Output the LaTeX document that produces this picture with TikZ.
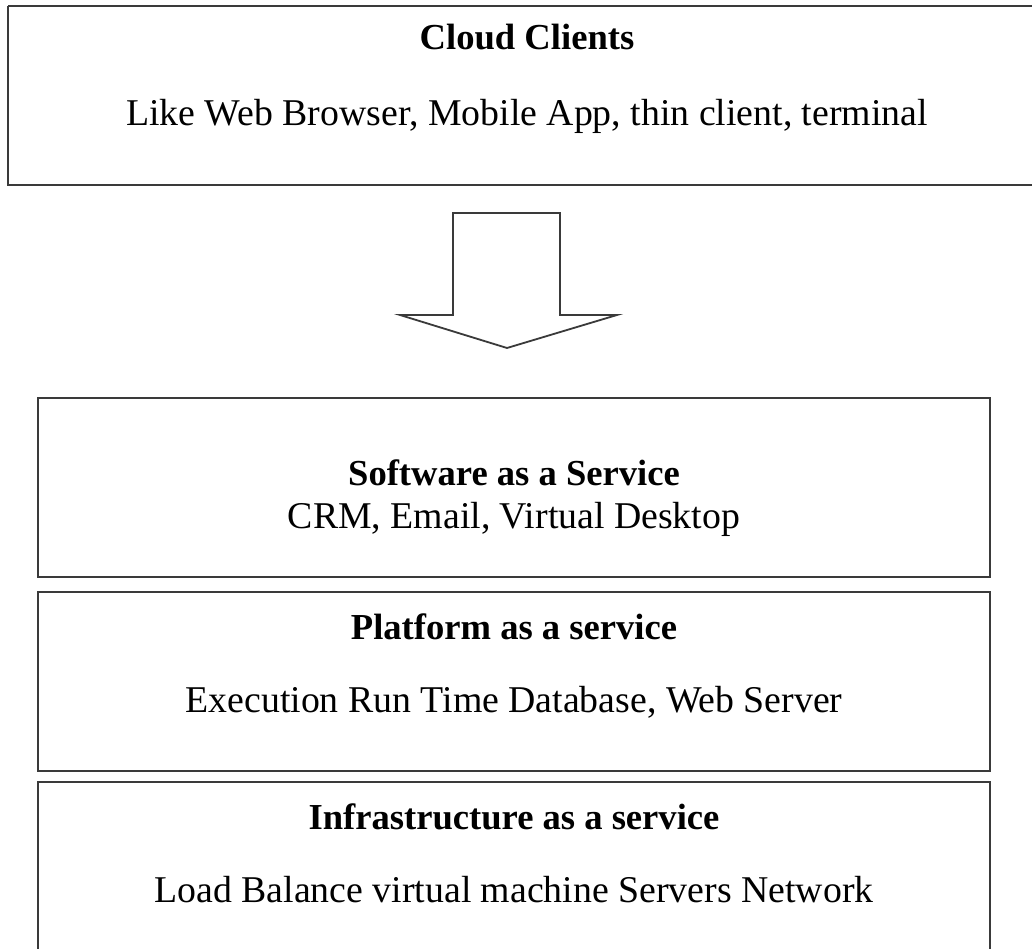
\documentclass[tikz,border=0pt]{standalone}
\usepackage{fontspec}
\setmainfont{Liberation Serif}
\definecolor{edge}{HTML}{3A3A3A}
\tikzset{
  x=1pt, y=-1pt,
  layerbox/.style={draw=edge, line width=2.6pt},
  blockarrow/.style={draw=edge, line width=1.8pt, fill=white, line join=miter},
  head/.style={anchor=base, font=\fontsize{36.6}{40}\selectfont\bfseries, inner sep=0pt},
  body/.style={anchor=base, font=\fontsize{37.8}{41}\selectfont, inner sep=0pt},
}
\begin{document}
\begin{tikzpicture}
  \useasboundingbox (0,0) rectangle (1032,949);
  \fill[white] (0,0) rectangle (1032,949);

  % client tier (runs off the right edge)
  \draw[layerbox] (8,6) -- (1045,6) (8,6) -- (8,185) -- (1045,185);
  \node[head] (cc) at (527,50) {Cloud Clients};
  \node[body] (ccb) at (527,126) {Like Web Browser, Mobile App, thin client, terminal};

  % downward block arrow
  \draw[blockarrow] (453,213) -- (560,213) -- (560,315) -- (617,315)
    -- (507,348) -- (400,315) -- (453,315) -- cycle;

  % service layers
  \draw[layerbox] (38,398) rectangle (990,577);
  \node[head] (saas) at (514,485) {Software as a Service};
  \node[body] (saasb) at (514,528) {CRM, Email, Virtual Desktop};

  \draw[layerbox] (38,592) rectangle (990,771);
  \node[head] (paas) at (514,639) {Platform as a service};
  \node[body] (paasb) at (514,712) {Execution Run Time Database, Web Server};

  \draw[layerbox] (38,960) -- (38,782) -- (990,782) -- (990,960);
  \node[head] (iaas) at (514,829) {Infrastructure as a service};
  \node[body] (iaasb) at (514,902) {Load Balance virtual machine Servers Network};
\end{tikzpicture}
\end{document}
